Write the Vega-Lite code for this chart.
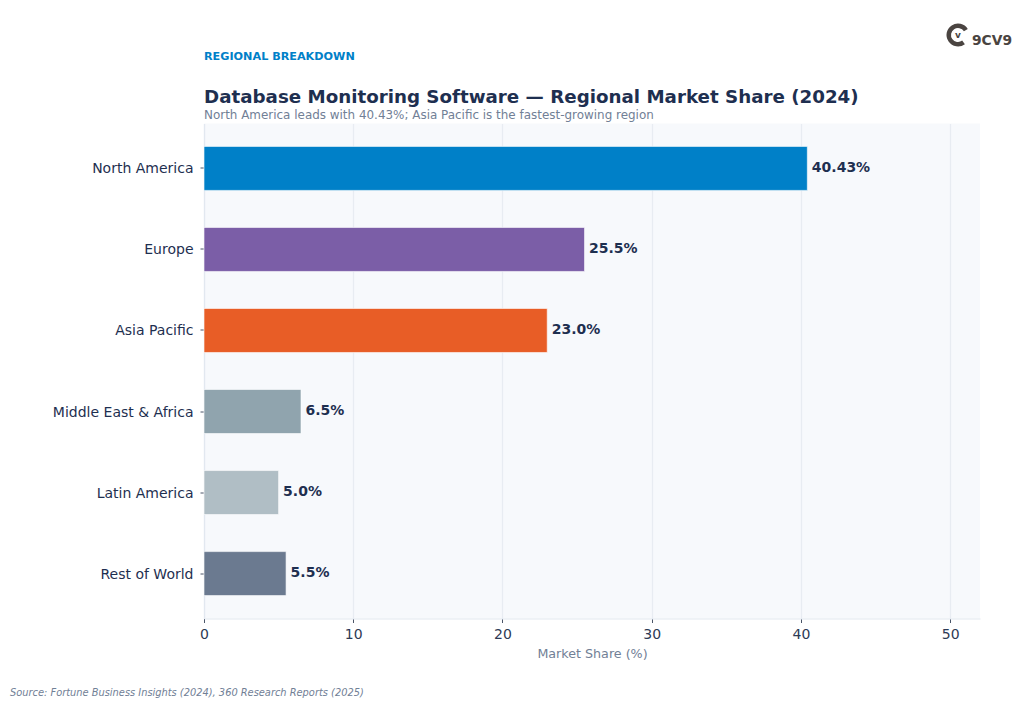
{
"$schema":"https://vega.github.io/schema/vega-lite/v6.json",
"width":776,"height":495,
"autosize":"none",
"padding":{"left":204,"top":123.5,"right":44,"bottom":89.5},
"background":"#ffffff",
"view":{"fill":"#F7F9FC","stroke":null},
"config":{"font":"DejaVu Sans"},
"title":{"text":"Database Monitoring Software — Regional Market Share (2024)","subtitle":"North America leads with 40.43%; Asia Pacific is the fastest-growing region","anchor":"start","frame":"group","font":"DejaVu Sans","fontSize":18.25,"fontWeight":"bold","color":"#1E2F50","subtitleFont":"DejaVu Sans","subtitleFontSize":11.95,"subtitleColor":"#718096","subtitlePadding":2,"offset":-98},
"data":{"values":[
{"region":"North America","share":40.43,"label":"40.43%"},
{"region":"Europe","share":25.5,"label":"25.5%"},
{"region":"Asia Pacific","share":23.0,"label":"23.0%"},
{"region":"Middle East & Africa","share":6.5,"label":"6.5%"},
{"region":"Latin America","share":5.0,"label":"5.0%"},
{"region":"Rest of World","share":5.5,"label":"5.5%"}
]},
"layer":[
{"mark":{"type":"bar","stroke":"#ffffff","strokeOpacity":0.6,"strokeWidth":1,"height":44},
"encoding":{
"y":{"field":"region","type":"nominal","sort":null,"scale":{"paddingInner":0.46,"paddingOuter":0.284},"axis":{"title":null,"labelFontSize":14,"labelColor":"#1E2F50","labelPadding":7,"labelBaseline":"middle","labelOffset":1,"tickColor":"#4A5568","tickSize":4,"domainColor":"#E2E8F0","domainWidth":1.2,"grid":false,"labelFont":"DejaVu Sans"}},
"x":{"field":"share","type":"quantitative","scale":{"domain":[0,52],"nice":false},"axis":{"title":"Market Share (%)","titleFontSize":12.7,"titleFontWeight":"normal","titleColor":"#718096","titlePadding":6,"labelFontSize":14,"labelColor":"#2D3A55","labelPadding":5,"tickColor":"#4A5568","tickSize":4,"domainColor":"#E2E8F0","domainWidth":1.2,"grid":true,"gridColor":"#E8ECF2","gridWidth":1.2,"values":[0,10,20,30,40,50],"labelFlush":false}},
"color":{"field":"region","type":"nominal","sort":null,"legend":null,"scale":{"domain":["North America","Europe","Asia Pacific","Middle East & Africa","Latin America","Rest of World"],"range":["#0080C8","#7B5EA7","#E85D26","#90A4AE","#B0BEC5","#6B7A90"]}}
}},
{"mark":{"type":"text","align":"left","baseline":"middle","dx":4.5,"dy":-0.5,"fontSize":14,"fontWeight":"bold","color":"#1E2F50"},
"encoding":{
"y":{"field":"region","type":"nominal","sort":null},
"x":{"field":"share","type":"quantitative"},
"text":{"field":"label","type":"nominal"}
}},
{"data":{"values":[{"t":"REGIONAL BREAKDOWN"}]},
"mark":{"type":"text","align":"left","baseline":"middle","x":0,"y":-67,"fontSize":11.2,"fontWeight":"bold","color":"#0080C8"},
"encoding":{"text":{"field":"t"}}},
{"data":{"values":[{"t":"Source: Fortune Business Insights (2024), 360 Research Reports (2025)"}]},
"mark":{"type":"text","align":"left","baseline":"middle","x":-194,"y":569,"fontSize":9.85,"fontStyle":"italic","color":"#718096"},
"encoding":{"text":{"field":"t"}}},
{"data":{"values":[{"t":"9CV9"}]},
"mark":{"type":"text","align":"left","baseline":"middle","x":768,"y":-83,"fontSize":13.8,"fontWeight":"bold","color":"#4A4441"},
"encoding":{"text":{"field":"t"}}},
{"data":{"values":[{"t":"v"}]},
"mark":{"type":"text","align":"center","baseline":"middle","x":754,"y":-89,"fontSize":9,"fontWeight":"bold","color":"#4A4441"},
"encoding":{"text":{"field":"t"}}},
{"data":{"values":[{"t":"ring"}]},
"mark":{"type":"arc","x":754,"y":-88.5,"innerRadius":7,"outerRadius":11.5,"theta":2.5,"theta2":7.3,"color":"#4A4441"}}
]
}
